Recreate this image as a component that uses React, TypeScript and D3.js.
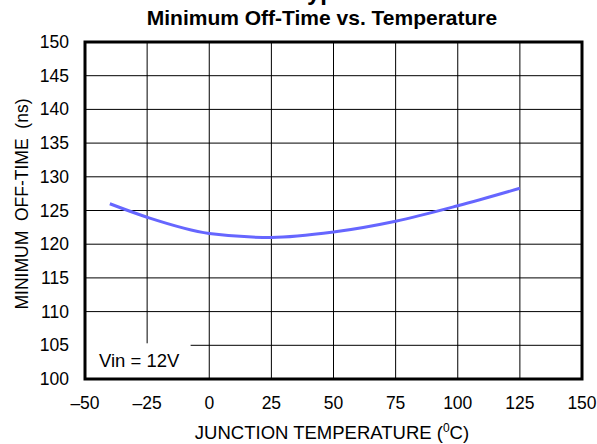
import * as d3 from "d3";
import { useEffect, useRef } from "react";

const temps = [-40, -25, 0, 25, 50, 75, 100, 125];
const offTime = [126.0, 124.0, 121.6, 121.0, 121.8, 123.4, 125.7, 128.3];
const xTicks = [-50, -25, 0, 25, 50, 75, 100, 125, 150];
const yTicks = [100, 105, 110, 115, 120, 125, 130, 135, 140, 145, 150];

function drawChart(svgEl: SVGSVGElement) {
    const width = 597;
    const height = 444;
    const margin = { top: 42, right: 15, bottom: 65, left: 85 };
    const font = "Arial, 'Liberation Sans', sans-serif";

    const svg = d3.select(svgEl);
    svg.selectAll("*").remove();
    svg.attr("width", width).attr("height", height);

    const x = d3.scaleLinear().domain([-50, 150]).range([margin.left, width - margin.right]);
    const y = d3.scaleLinear().domain([100, 150]).range([height - margin.bottom, margin.top]);

    // big heading, cut off at the top of the picture
    svg.append("text")
        .attr("x", 294)
        .attr("y", 0)
        .attr("font-family", font)
        .attr("font-weight", "bold")
        .attr("font-size", 24)
        .text("Typical Performance Characteristics");

    svg.append("text")
        .attr("x", 322)
        .attr("y", 25)
        .attr("text-anchor", "middle")
        .attr("font-family", font)
        .attr("font-weight", "bold")
        .attr("font-size", 21)
        .text("Minimum Off-Time vs. Temperature");

    // grid
    const grid = svg.append("g").attr("stroke", "#000").attr("stroke-width", 1);
    grid.selectAll("line.v")
        .data(xTicks.slice(1, -1))
        .enter()
        .append("line")
        .attr("x1", d => x(d)).attr("x2", d => x(d))
        .attr("y1", y(150)).attr("y2", y(100));
    grid.selectAll("line.h")
        .data(yTicks.slice(1, -1))
        .enter()
        .append("line")
        .attr("x1", x(-50)).attr("x2", x(150))
        .attr("y1", d => y(d)).attr("y2", d => y(d));

    // white patch behind the Vin label
    svg.append("rect")
        .attr("x", x(-50))
        .attr("y", y(105) - 2)
        .attr("width", x(-7.5) - x(-50))
        .attr("height", y(100) - y(105) + 2)
        .attr("fill", "#fff");

    svg.append("text")
        .attr("x", x(-50) + 14)
        .attr("y", y(100) - 12)
        .attr("font-family", font)
        .attr("font-size", 18.5)
        .text("Vin = 12V");

    // curve
    const line = d3.line<number>()
        .x((_, i) => x(temps[i]))
        .y(d => y(d))
        .curve(d3.curveMonotoneX);
    svg.append("path")
        .datum(offTime)
        .attr("d", line)
        .attr("fill", "none")
        .attr("stroke", "#6666ff")
        .attr("stroke-width", 3);

    // frame
    svg.append("rect")
        .attr("x", x(-50))
        .attr("y", y(150))
        .attr("width", x(150) - x(-50))
        .attr("height", y(100) - y(150))
        .attr("fill", "none")
        .attr("stroke", "#000")
        .attr("stroke-width", 3);

    // tick labels
    svg.selectAll("text.xt")
        .data(xTicks)
        .enter()
        .append("text")
        .attr("x", d => x(d))
        .attr("y", y(100) + 30)
        .attr("text-anchor", "middle")
        .attr("font-family", font)
        .attr("font-size", 17.5)
        .text(d => (d < 0 ? "\u2013" + Math.abs(d) : String(d)));

    svg.selectAll("text.yt")
        .data(yTicks)
        .enter()
        .append("text")
        .attr("x", margin.left - 16)
        .attr("y", d => y(d) + 6)
        .attr("text-anchor", "end")
        .attr("font-family", font)
        .attr("font-size", 17.5)
        .text(d => String(d));

    // axis titles
    const xt = svg.append("text")
        .attr("x", 332)
        .attr("y", 439)
        .attr("text-anchor", "middle")
        .attr("font-family", font)
        .attr("font-size", 18.5);
    xt.append("tspan").text("JUNCTION TEMPERATURE (");
    xt.append("tspan").attr("font-size", 12).attr("dy", -7).text("0");
    xt.append("tspan").attr("dy", 7).text("C)");

    svg.append("text")
        .attr("transform", `translate(28, 204) rotate(-90)`)
        .attr("text-anchor", "middle")
        .attr("font-family", font)
        .attr("font-size", 17.5)
        .style("white-space", "pre")
        .text("MINIMUM  OFF-TIME  (ns)");
}

export default function App() {
    const svgRef = useRef<SVGSVGElement>(null);
    useEffect(() => {
        if (svgRef.current) drawChart(svgRef.current);
    }, []);
    return (
        <div style={{ position: "absolute", left: 0, top: 0 }}>
            <svg ref={svgRef} style={{ display: "block" }} />
        </div>
    );
}
